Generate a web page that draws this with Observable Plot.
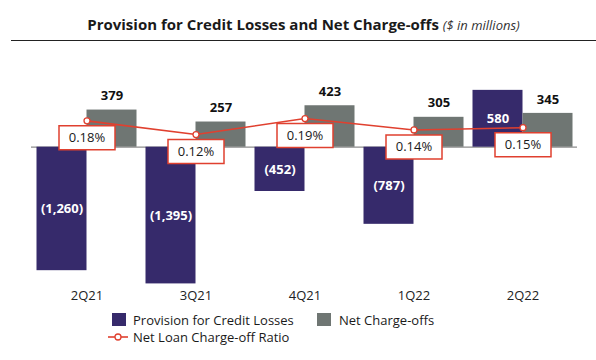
<!DOCTYPE html>
<html><head><meta charset="utf-8">
<script src="https://cdn.jsdelivr.net/npm/d3@7"></script>
<script src="https://cdn.jsdelivr.net/npm/@observablehq/plot@0.6"></script>
<style>
body{margin:0;background:#fff;font-family:"Open Sans",sans-serif;color:#1a1a1a;}
#wrap{position:relative;width:596px;height:360px;overflow:hidden;background:#fff}
#title{position:absolute;left:11px;top:0;width:585px;height:41px;border-bottom:1px solid #222;box-sizing:border-box;}
#title .t{position:absolute;left:0;right:0;top:14px;text-align:center;white-space:nowrap;font-size:15px;font-weight:700;line-height:20px;}
#title .t i{font-weight:400;font-size:13px;color:#333;}
#chart{position:absolute;left:0;top:41px;}
.lg{position:absolute;font-size:13px;line-height:16px;white-space:nowrap;color:#1a1a1a}
.sw{position:absolute;width:14px;height:13px}
</style></head>
<body><div id="wrap">
<div id="title"><div class="t">Provision for Credit Losses and Net Charge-offs <i>($ in millions)</i></div></div>
<div id="chart"></div>
<div class="sw" style="left:112px;top:313px;background:#362a6b"></div>
<div class="lg" style="left:133px;top:312px">Provision for Credit Losses</div>
<div class="sw" style="left:317px;top:313px;background:#6f7673"></div>
<div class="lg" style="left:339px;top:312px">Net Charge-offs</div>
<svg style="position:absolute;left:107px;top:331px" width="22" height="12"><line x1="1" x2="21" y1="6" y2="6" stroke="#e0402f" stroke-width="1.6"/><circle cx="11" cy="6" r="3" fill="#fff" stroke="#e0402f" stroke-width="1.3"/></svg>
<div class="lg" style="left:133px;top:329px">Net Loan Charge-off Ratio</div>
</div>
<script>
const quarters = ["2Q21", "3Q21", "4Q21", "1Q22", "2Q22"];
const provision = [-1260, -1395, -452, -787, 580];
const chargeOffs = [379, 257, 423, 305, 345];
const ratio = [0.18, 0.12, 0.19, 0.14, 0.15];

const PURPLE = "#362a6b", GRAY = "#6f7673", RED = "#e0402f";
const rows = quarters.map((q, i) => ({q, provision: provision[i], nco: chargeOffs[i], ratio: ratio[i]}));
const fmt = v => v < 0 ? `(${d3.format(",")(-v)})` : d3.format(",")(v);
// secondary axis (ratio, %) aligned onto the primary ($ millions) axis
const ratioY = d3.scaleLinear().domain([0, 0.2]).range([-150, 315.4]);
const boxSymbol = {draw(ctx) { ctx.rect(-28, -12, 56, 24); }};

const chart = Plot.plot({
  width: 596, height: 264,
  marginLeft: 31, marginRight: 19, marginTop: 0, marginBottom: 0,
  x: {type: "band", domain: quarters, paddingInner: 0, paddingOuter: 0, axis: null},
  y: {domain: [0, 1000], range: [105.7, 7.7], axis: null},
  style: {fontFamily: "Open Sans", background: "white", overflow: "visible"},
  marks: [
    Plot.ruleY([0], {stroke: "#8c8c8c", strokeWidth: 1.3}),
    Plot.barY(rows, {x: "q", y: "provision", fill: PURPLE, insetLeft: 4.5, insetRight: 54.5}),
    Plot.barY(rows, {x: "q", y: "nco", fill: GRAY, insetLeft: 54.5, insetRight: 4.5}),
    Plot.text(rows, {x: "q", y: "nco", text: d => fmt(d.nco), dx: 25, dy: -14, fontWeight: "bold", fontSize: 13, fill: "#111"}),
    Plot.text(rows, {x: "q", y: d => d.provision / 2, text: d => fmt(d.provision), dx: -25, fill: "white", fontWeight: "bold", fontSize: 13}),
    Plot.line(rows, {x: "q", y: d => ratioY(d.ratio), stroke: RED, strokeWidth: 1.6}),
    Plot.dot(rows, {x: "q", y: d => ratioY(d.ratio), r: 3, fill: "white", stroke: RED, strokeWidth: 1.3}),
    Plot.dot(rows, {x: "q", y: d => ratioY(d.ratio), symbol: boxSymbol, fill: "white", stroke: RED, strokeWidth: 1.5, dy: 17}),
    Plot.text(rows, {x: "q", y: d => ratioY(d.ratio), text: d => d.ratio.toFixed(2) + "%", dy: 17, fontSize: 13, fill: "#1a1a1a"}),
    Plot.text(quarters, {x: d => d, frameAnchor: "bottom", dy: -10, lineAnchor: "middle", fontSize: 13, fill: "#222"})
  ]
});
document.getElementById("chart").appendChild(chart);
</script>
</body></html>
